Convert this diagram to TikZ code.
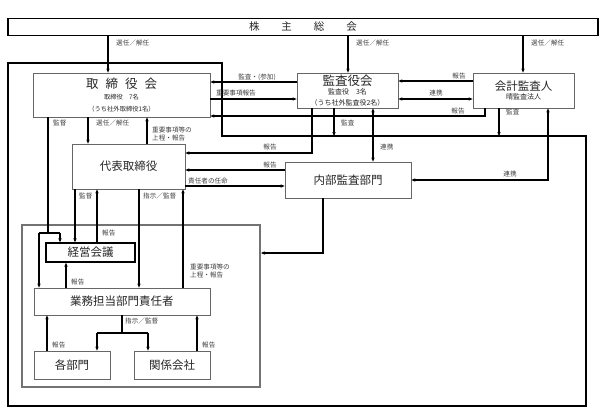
\documentclass[tikz,border=0pt]{standalone}
\usepackage{fontspec}
\setmainfont{Noto Sans CJK JP}
\usetikzlibrary{arrows.meta}
\newcommand{\lbl}{\fontsize{6.6}{8}\selectfont}
\newcommand{\sbf}{\fontsize{6.3}{7}\selectfont}
\newcommand{\sbg}{\fontsize{7}{7.5}\selectfont}
\newcommand{\bxf}{\fontsize{11.5}{13}\selectfont}
\begin{document}
\begin{tikzpicture}[x=1pt,y=-1pt,
  box/.style={draw=black!60,line width=0.8pt,fill=white,inner sep=0pt,text=black!85,font=\bxf,align=center},
  lab/.style={inner sep=0pt,text=black!75,font=\lbl},
  ln/.style={line width=1.1pt},
  ar/.style={line width=1.1pt,-{Stealth[length=4pt,width=3.4pt]}},
  dar/.style={line width=1.1pt,{Stealth[length=4pt,width=3.4pt]}-{Stealth[length=4pt,width=3.4pt]}}]
\useasboundingbox (0,0) rectangle (606,410);
\draw[ln] (8,63) -- (222,63) -- (222,136) -- (586,136) -- (586,406) -- (8,406) -- cycle;
\coordinate (fr) at (586,136);
\node[draw=black!55,line width=2pt,minimum width=238,minimum height=162,inner sep=0pt] (grp) at (141,306) {};
% boxes
\node[box,draw=black,line width=1.2pt,minimum width=590,minimum height=17,font=\fontsize{10.5}{12}\selectfont] (sh) at (303,27) {株\hspace{22pt}主\hspace{22pt}総\hspace{22pt}会};
\node[box,minimum width=177,minimum height=44] (tb) at (121.5,95) {{\fontsize{12.5}{14}\selectfont 取\hspace{7pt}締\hspace{7pt}役\hspace{7pt}会}\\[-2pt]{\sbf 取締役　7名}\\[-1pt]{\sbf （うち社外取締役1名）}};
\node[box,minimum width=101,minimum height=35] (ka) at (347.5,90.5) {{\fontsize{12.5}{14}\selectfont 監査役会}\\[-3.5pt]{\sbg 監査役　3名}\\[-2.5pt]{\sbg （うち社外監査役2名）}};
\node[box,minimum width=101,minimum height=35] (kk) at (523.5,90.5) {会計監査人\\[-4pt]{\sbg 晴監査法人}};
\node[box,minimum width=113,minimum height=45] (dt) at (128.5,166.5) {代表取締役};
\node[box,minimum width=126,minimum height=36] (nb) at (348,180) {内部監査部門};
\node[box,draw=black,line width=1.5pt,minimum width=89,minimum height=19] (kg) at (90.5,252.5) {経営会議};
\node[box,minimum width=176,minimum height=27] (gt) at (122,301.5) {業務担当部門責任者};
\node[box,minimum width=76,minimum height=28] (kb) at (72,365) {各部門};
\node[box,minimum width=76,minimum height=28] (kc) at (172,365) {関係会社};
% 株主総会から
\draw[ar] (108,0 |- sh.south) -- (108,0 |- tb.north);
\draw[ar] (348,0 |- sh.south) -- (348,0 |- ka.north);
\draw[ar] (523,0 |- sh.south) -- (523,0 |- kk.north);
\node[lab,anchor=west] (s1) at (116,43) {選任／解任};
\node[lab,anchor=west] (s2) at (356,43) {選任／解任};
\node[lab,anchor=west] (s3) at (531,43) {選任／解任};
% 取締役会・監査役会・会計監査人
\draw[ar] (ka.west |- 0,82) -- (tb.east |- 0,82);
\node[lab] (l1) at (257,77) {監査・(参加)};
\draw[ar] (tb.east |- 0,99) -- (ka.west |- 0,99);
\node[lab,anchor=west] (l2) at (216,93) {重要事項報告};
\draw[ar] (485,0 |- kk.south) -- (485,116) -- (tb.east |- 0,116);
\node[lab] (l3) at (458,111) {報告};
\draw[ar] (kk.west |- 0,81) -- (ka.east |- 0,81);
\node[lab] (l4) at (459,76) {報告};
\draw[dar] (ka.east |- 0,99) -- (kk.west |- 0,99);
\node[lab] (l5) at (436,93) {連携};
\draw[ar] (334,0 |- ka.south) -- (334,0 |- fr);
\node[lab,anchor=west] (l6) at (341,123) {監査};
\draw[ar] (499,0 |- kk.south) -- (499,0 |- fr);
\node[lab,anchor=west] (l7) at (506,112) {監査};
\draw[dar] (373,0 |- ka.south) -- (373,0 |- nb.north);
\node[lab,anchor=west] (l8) at (380,147) {連携};
\draw[ar] (312,0 |- ka.south) -- (312,153) -- (dt.east |- 0,153);
\node[lab] (l9) at (270,147) {報告};
\draw[ar] (nb.west |- 0,170) -- (dt.east |- 0,170);
\node[lab] (l10) at (270,165) {報告};
\draw[ar] (dt.east |- 0,186) -- (nb.west |- 0,186);
\node[lab,anchor=west] (l11) at (188,181) {責任者の任命};
\draw[dar] (nb.east) -- (548,0 |- nb.east) -- (548,0 |- kk.south);
\node[lab] (l12) at (510,174) {連携};
% 取締役会と代表取締役
\draw[ar] (88,0 |- tb.south) -- (88,0 |- dt.north);
\node[lab,anchor=west] (l13) at (96,123) {選任／解任};
\draw[ar] (147,0 |- dt.north) -- (147,0 |- tb.south);
\node[lab,anchor=north west,align=left] (l14) at (152,127) {重要事項等の\\上程・報告};
\draw[ln] (48,0 |- tb.south) -- (48,233) coordinate (sp);
\draw[ln] (39,0 |- sp) -- (60,0 |- sp);
\draw[ar] (39,0 |- sp) -- (39,0 |- gt.north);
\draw[ar] (60,0 |- sp) -- (60,0 |- kg.north);
\node[lab,anchor=west] (l15) at (53,123) {監督};
% 代表取締役から下
\draw[ar] (75,0 |- dt.south) -- (75,0 |- kg.north);
\node[lab,anchor=west] (l16) at (79,196) {監督};
\draw[ar] (97,0 |- kg.north) -- (97,0 |- dt.south);
\node[lab,anchor=west] (l17) at (102,233) {報告};
\draw[ar] (139,0 |- dt.south) -- (139,0 |- gt.north);
\node[lab,anchor=west] (l18) at (143,196) {指示／監督};
\draw[ar] (183,0 |- gt.north) -- (183,0 |- dt.south);
\node[lab,anchor=north west,align=left] (l19) at (190,264) {重要事項等の\\上程・報告};
\draw[ar] (323,0 |- nb.south) -- (323,253) -- (grp.east |- 0,253);
% 業務担当部門責任者
\draw[ar] (66,0 |- gt.north) -- (66,0 |- kg.south);
\node[lab,anchor=west] (l20) at (71,282) {報告};
\draw[ln] (122,0 |- gt.south) -- (122,333) coordinate (bp);
\draw[ln] (97,0 |- bp) -- (148,0 |- bp);
\draw[ar] (97,0 |- bp) -- (97,0 |- kb.north);
\draw[ar] (148,0 |- bp) -- (148,0 |- kc.north);
\node[lab,anchor=west] (l21) at (125,321) {指示／監督};
\draw[ar] (47,0 |- kb.north) -- (47,0 |- gt.south);
\node[lab,anchor=west] (l22) at (52,345) {報告};
\draw[ar] (197,0 |- kc.north) -- (197,0 |- gt.south);
\node[lab,anchor=west] (l23) at (202,345) {報告};
\end{tikzpicture}
\end{document}
